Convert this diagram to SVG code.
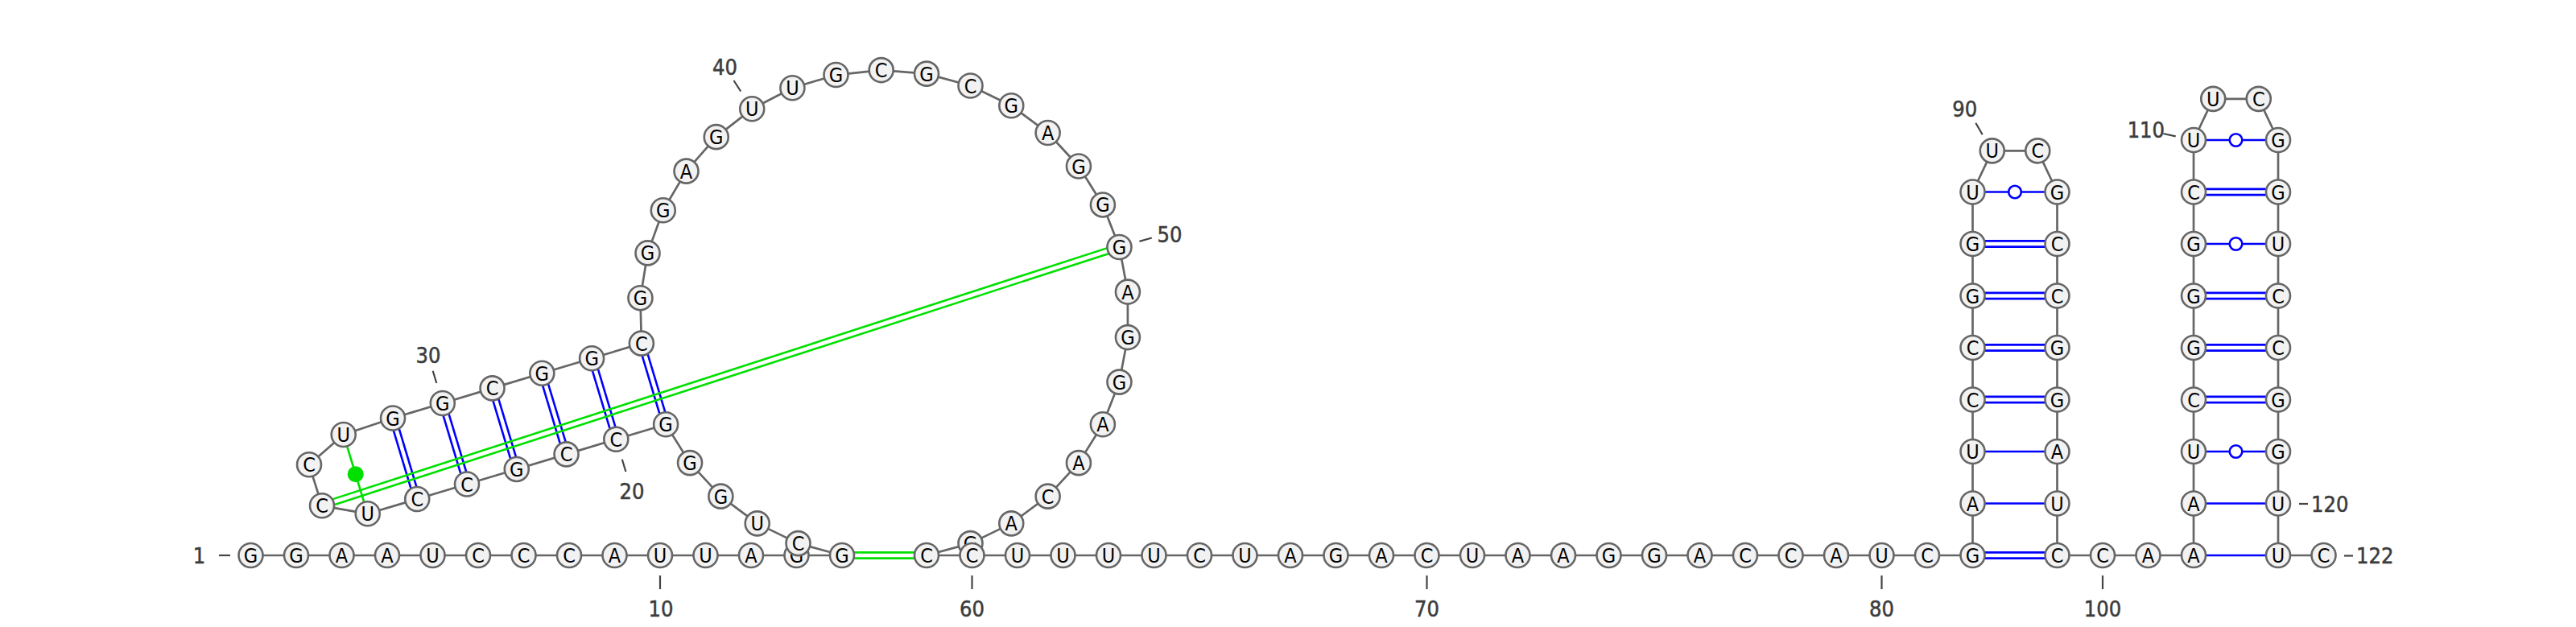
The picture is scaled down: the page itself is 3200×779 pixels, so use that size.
<svg xmlns="http://www.w3.org/2000/svg" width="3200" height="779" viewBox="0 0 3200 779">
<style>
.nd circle{fill:#f2f2f2;stroke:#666;stroke-width:2.6}
.nd text{font-family:"DejaVu Sans Condensed","DejaVu Sans",sans-serif;font-stretch:condensed;font-size:25px;text-anchor:middle;fill:#000}
.bb{fill:none;stroke:#666;stroke-width:2.7;stroke-linejoin:round}
.bp{stroke:#0000ff;stroke-width:2.6}
.pk{stroke:#00e000;stroke-width:2.6}
.gu{fill:#fff;stroke:#0000ff;stroke-width:2.6}
.dot{fill:#00e000}
.tk{stroke:#444;stroke-width:2.2}
.lbl{font-family:"DejaVu Sans Condensed","DejaVu Sans",sans-serif;font-stretch:condensed;font-weight:normal;font-size:27px;fill:#3c3c3c;text-anchor:middle;stroke:#3c3c3c;stroke-width:0.5}
</style>
<rect width="3200" height="779" fill="#fff"/>
<g id="connectors">
<polyline class="bb" points="311.5,690 368,690 424.5,690 481,690 537.5,690 594,690 650.5,690 707,690 763.5,690 820,690 876.5,690 933,690 989.5,690 1046,690 991.5,675.1 940.7,650.37 895.36,616.65 857.05,575.12 827.09,527.22 765.32,545.79 703.55,564.36 641.78,582.93 580.01,601.5 518.24,620.07 456.7,638.3 400,628.3 384,577.3 426.7,540 488.02,519.51 549.79,500.94 611.56,482.37 673.33,463.8 735.1,445.23 796.87,426.66 795.45,370.18 804.52,314.41 823.75,261.28 852.5,212.64 889.75,170.16 934.23,135.32 984.39,109.32 1038.5,93.05 1094.69,87.09 1151.01,91.64 1205.51,106.54 1256.31,131.28 1301.64,164.99 1339.95,206.52 1369.91,254.43 1390.47,307.05 1400.93,362.58 1400.93,419.08 1390.47,474.6 1369.9,527.22 1339.94,575.13 1301.63,616.66 1256.29,650.37 1205.49,675.1 1151,690 1207.5,690 1264,690 1320.5,690 1377,690 1433.5,690 1490,690 1546.5,690 1603,690 1659.5,690 1716,690 1772.5,690 1829,690 1885.5,690 1942,690 1998.5,690 2055,690 2111.5,690 2168,690 2224.5,690 2281,690 2337.5,690 2394,690 2450.5,690 2450.5,625.5 2450.5,561 2450.5,496.5 2450.5,432 2450.5,367.5 2450.5,303 2450.5,238.5 2474.75,187.35 2531.25,187.35 2555.5,238.5 2555.5,303 2555.5,367.5 2555.5,432 2555.5,496.5 2555.5,561 2555.5,625.5 2555.5,690 2612,690 2668.5,690 2725,690 2725,625.5 2725,561 2725,496.5 2725,432 2725,367.5 2725,303 2725,238.5 2725,174 2749.25,122.85 2805.75,122.85 2830,174 2830,238.5 2830,303 2830,367.5 2830,432 2830,496.5 2830,561 2830,625.5 2830,690 2886.5,690"/>
<!-- left helix pairs -->
<line class="bp" x1="793.42" y1="427.7" x2="823.64" y2="528.26"/><line class="bp" x1="800.32" y1="425.62" x2="830.54" y2="526.18"/>
<line class="bp" x1="731.65" y1="446.27" x2="761.87" y2="546.83"/><line class="bp" x1="738.55" y1="444.19" x2="768.77" y2="544.75"/>
<line class="bp" x1="669.88" y1="464.84" x2="700.1" y2="565.4"/><line class="bp" x1="676.78" y1="462.76" x2="707" y2="563.32"/>
<line class="bp" x1="608.11" y1="483.41" x2="638.33" y2="583.97"/><line class="bp" x1="615.01" y1="481.33" x2="645.23" y2="581.89"/>
<line class="bp" x1="546.34" y1="501.98" x2="576.56" y2="602.54"/><line class="bp" x1="553.24" y1="499.9" x2="583.46" y2="600.46"/>
<line class="bp" x1="484.57" y1="520.55" x2="514.79" y2="621.11"/><line class="bp" x1="491.47" y1="518.47" x2="521.69" y2="619.03"/>
<!-- stem 1 -->
<line class="bp" x1="2450.5" y1="686.4" x2="2555.5" y2="686.4"/><line class="bp" x1="2450.5" y1="693.6" x2="2555.5" y2="693.6"/>
<line class="bp" x1="2450.5" y1="625.5" x2="2555.5" y2="625.5"/>
<line class="bp" x1="2450.5" y1="561" x2="2555.5" y2="561"/>
<line class="bp" x1="2450.5" y1="492.9" x2="2555.5" y2="492.9"/><line class="bp" x1="2450.5" y1="500.1" x2="2555.5" y2="500.1"/>
<line class="bp" x1="2450.5" y1="428.4" x2="2555.5" y2="428.4"/><line class="bp" x1="2450.5" y1="435.6" x2="2555.5" y2="435.6"/>
<line class="bp" x1="2450.5" y1="363.9" x2="2555.5" y2="363.9"/><line class="bp" x1="2450.5" y1="371.1" x2="2555.5" y2="371.1"/>
<line class="bp" x1="2450.5" y1="299.4" x2="2555.5" y2="299.4"/><line class="bp" x1="2450.5" y1="306.6" x2="2555.5" y2="306.6"/>
<line class="bp" x1="2450.5" y1="238.5" x2="2555.5" y2="238.5"/>
<circle class="gu" cx="2503" cy="238.5" r="7.8"/>
<!-- stem 2 -->
<line class="bp" x1="2725" y1="690" x2="2830" y2="690"/>
<line class="bp" x1="2725" y1="625.5" x2="2830" y2="625.5"/>
<line class="bp" x1="2725" y1="561" x2="2830" y2="561"/>
<circle class="gu" cx="2777.5" cy="561" r="7.8"/>
<line class="bp" x1="2725" y1="492.9" x2="2830" y2="492.9"/><line class="bp" x1="2725" y1="500.1" x2="2830" y2="500.1"/>
<line class="bp" x1="2725" y1="428.4" x2="2830" y2="428.4"/><line class="bp" x1="2725" y1="435.6" x2="2830" y2="435.6"/>
<line class="bp" x1="2725" y1="363.9" x2="2830" y2="363.9"/><line class="bp" x1="2725" y1="371.1" x2="2830" y2="371.1"/>
<line class="bp" x1="2725" y1="303" x2="2830" y2="303"/>
<circle class="gu" cx="2777.5" cy="303" r="7.8"/>
<line class="bp" x1="2725" y1="234.9" x2="2830" y2="234.9"/><line class="bp" x1="2725" y1="242.1" x2="2830" y2="242.1"/>
<line class="bp" x1="2725" y1="174" x2="2830" y2="174"/>
<circle class="gu" cx="2777.5" cy="174" r="7.8"/>
<!-- tertiary / pseudoknot pairs -->
<line class="pk" x1="1046" y1="686.4" x2="1151" y2="686.4"/><line class="pk" x1="1046" y1="693.6" x2="1151" y2="693.6"/>
<line class="pk" x1="401.11" y1="631.72" x2="1391.58" y2="310.47"/><line class="pk" x1="398.89" y1="624.88" x2="1389.36" y2="303.63"/>
<line class="pk" x1="426.7" y1="540" x2="456.7" y2="638.3"/>
<circle class="dot" cx="441.7" cy="589.15" r="10"/>
</g>
<g id="ticks">
<line class="tk" x1="272" y1="690" x2="286" y2="690"/>
<line class="tk" x1="820" y1="715" x2="820" y2="732"/>
<line class="tk" x1="772.8" y1="570.7" x2="777.4" y2="586"/>
<line class="tk" x1="542.3" y1="476" x2="537.7" y2="460.7"/>
<line class="tk" x1="920.2" y1="113.5" x2="911.5" y2="100"/>
<line class="tk" x1="1415.5" y1="299.9" x2="1430.8" y2="295.5"/>
<line class="tk" x1="1207.5" y1="715" x2="1207.5" y2="732"/>
<line class="tk" x1="1772.5" y1="715" x2="1772.5" y2="732"/>
<line class="tk" x1="2337.5" y1="715" x2="2337.5" y2="732"/>
<line class="tk" x1="2462.7" y1="167.3" x2="2454.3" y2="152.7"/>
<line class="tk" x1="2612" y1="715" x2="2612" y2="732"/>
<line class="tk" x1="2702.7" y1="169.3" x2="2687.3" y2="166"/>
<line class="tk" x1="2856" y1="626" x2="2867" y2="626"/>
<line class="tk" x1="2912" y1="690.5" x2="2923" y2="690.5"/>
<text class="lbl" x="247.5" y="699.5">1</text>
<text class="lbl" x="821" y="766">10</text>
<text class="lbl" x="785" y="619.5">20</text>
<text class="lbl" x="532" y="450.5">30</text>
<text class="lbl" x="900.5" y="92.8">40</text>
<text class="lbl" x="1453" y="300.5">50</text>
<text class="lbl" x="1207.5" y="766">60</text>
<text class="lbl" x="1772.5" y="766">70</text>
<text class="lbl" x="2337.5" y="766">80</text>
<text class="lbl" x="2440.7" y="144.5">90</text>
<text class="lbl" x="2612" y="766">100</text>
<text class="lbl" x="2689" y="171" style="text-anchor:end">110</text>
<text class="lbl" x="2871" y="635.5" style="text-anchor:start">120</text>
<text class="lbl" x="2927" y="700" style="text-anchor:start">122</text>
</g>
<g id="n1" class="nd"><circle cx="311.5" cy="690" r="15"/><text x="311.5" y="699">G</text></g>
<g id="n2" class="nd"><circle cx="368" cy="690" r="15"/><text x="368" y="699">G</text></g>
<g id="n3" class="nd"><circle cx="424.5" cy="690" r="15"/><text x="424.5" y="699">A</text></g>
<g id="n4" class="nd"><circle cx="481" cy="690" r="15"/><text x="481" y="699">A</text></g>
<g id="n5" class="nd"><circle cx="537.5" cy="690" r="15"/><text x="537.5" y="699">U</text></g>
<g id="n6" class="nd"><circle cx="594" cy="690" r="15"/><text x="594" y="699">C</text></g>
<g id="n7" class="nd"><circle cx="650.5" cy="690" r="15"/><text x="650.5" y="699">C</text></g>
<g id="n8" class="nd"><circle cx="707" cy="690" r="15"/><text x="707" y="699">C</text></g>
<g id="n9" class="nd"><circle cx="763.5" cy="690" r="15"/><text x="763.5" y="699">A</text></g>
<g id="n10" class="nd"><circle cx="820" cy="690" r="15"/><text x="820" y="699">U</text></g>
<g id="n11" class="nd"><circle cx="876.5" cy="690" r="15"/><text x="876.5" y="699">U</text></g>
<g id="n12" class="nd"><circle cx="933" cy="690" r="15"/><text x="933" y="699">A</text></g>
<g id="n13" class="nd"><circle cx="989.5" cy="690" r="15"/><text x="989.5" y="699">G</text></g>
<g id="n14" class="nd"><circle cx="1046" cy="690" r="15"/><text x="1046" y="699">G</text></g>
<g id="n15" class="nd"><circle cx="991.5" cy="675.1" r="15"/><text x="991.5" y="684.1">C</text></g>
<g id="n16" class="nd"><circle cx="940.7" cy="650.37" r="15"/><text x="940.7" y="659.37">U</text></g>
<g id="n17" class="nd"><circle cx="895.36" cy="616.65" r="15"/><text x="895.36" y="625.65">G</text></g>
<g id="n18" class="nd"><circle cx="857.05" cy="575.12" r="15"/><text x="857.05" y="584.12">G</text></g>
<g id="n19" class="nd"><circle cx="827.09" cy="527.22" r="15"/><text x="827.09" y="536.22">G</text></g>
<g id="n20" class="nd"><circle cx="765.32" cy="545.79" r="15"/><text x="765.32" y="554.79">C</text></g>
<g id="n21" class="nd"><circle cx="703.55" cy="564.36" r="15"/><text x="703.55" y="573.36">C</text></g>
<g id="n22" class="nd"><circle cx="641.78" cy="582.93" r="15"/><text x="641.78" y="591.93">G</text></g>
<g id="n23" class="nd"><circle cx="580.01" cy="601.5" r="15"/><text x="580.01" y="610.5">C</text></g>
<g id="n24" class="nd"><circle cx="518.24" cy="620.07" r="15"/><text x="518.24" y="629.07">C</text></g>
<g id="n25" class="nd"><circle cx="456.7" cy="638.3" r="15"/><text x="456.7" y="647.3">U</text></g>
<g id="n26" class="nd"><circle cx="400" cy="628.3" r="15"/><text x="400" y="637.3">C</text></g>
<g id="n27" class="nd"><circle cx="384" cy="577.3" r="15"/><text x="384" y="586.3">C</text></g>
<g id="n28" class="nd"><circle cx="426.7" cy="540" r="15"/><text x="426.7" y="549">U</text></g>
<g id="n29" class="nd"><circle cx="488.02" cy="519.51" r="15"/><text x="488.02" y="528.51">G</text></g>
<g id="n30" class="nd"><circle cx="549.79" cy="500.94" r="15"/><text x="549.79" y="509.94">G</text></g>
<g id="n31" class="nd"><circle cx="611.56" cy="482.37" r="15"/><text x="611.56" y="491.37">C</text></g>
<g id="n32" class="nd"><circle cx="673.33" cy="463.8" r="15"/><text x="673.33" y="472.8">G</text></g>
<g id="n33" class="nd"><circle cx="735.1" cy="445.23" r="15"/><text x="735.1" y="454.23">G</text></g>
<g id="n34" class="nd"><circle cx="796.87" cy="426.66" r="15"/><text x="796.87" y="435.66">C</text></g>
<g id="n35" class="nd"><circle cx="795.45" cy="370.18" r="15"/><text x="795.45" y="379.18">G</text></g>
<g id="n36" class="nd"><circle cx="804.52" cy="314.41" r="15"/><text x="804.52" y="323.41">G</text></g>
<g id="n37" class="nd"><circle cx="823.75" cy="261.28" r="15"/><text x="823.75" y="270.28">G</text></g>
<g id="n38" class="nd"><circle cx="852.5" cy="212.64" r="15"/><text x="852.5" y="221.64">A</text></g>
<g id="n39" class="nd"><circle cx="889.75" cy="170.16" r="15"/><text x="889.75" y="179.16">G</text></g>
<g id="n40" class="nd"><circle cx="934.23" cy="135.32" r="15"/><text x="934.23" y="144.32">U</text></g>
<g id="n41" class="nd"><circle cx="984.39" cy="109.32" r="15"/><text x="984.39" y="118.32">U</text></g>
<g id="n42" class="nd"><circle cx="1038.5" cy="93.05" r="15"/><text x="1038.5" y="102.05">G</text></g>
<g id="n43" class="nd"><circle cx="1094.69" cy="87.09" r="15"/><text x="1094.69" y="96.09">C</text></g>
<g id="n44" class="nd"><circle cx="1151.01" cy="91.64" r="15"/><text x="1151.01" y="100.64">G</text></g>
<g id="n45" class="nd"><circle cx="1205.51" cy="106.54" r="15"/><text x="1205.51" y="115.54">C</text></g>
<g id="n46" class="nd"><circle cx="1256.31" cy="131.28" r="15"/><text x="1256.31" y="140.28">G</text></g>
<g id="n47" class="nd"><circle cx="1301.64" cy="164.99" r="15"/><text x="1301.64" y="173.99">A</text></g>
<g id="n48" class="nd"><circle cx="1339.95" cy="206.52" r="15"/><text x="1339.95" y="215.52">G</text></g>
<g id="n49" class="nd"><circle cx="1369.91" cy="254.43" r="15"/><text x="1369.91" y="263.43">G</text></g>
<g id="n50" class="nd"><circle cx="1390.47" cy="307.05" r="15"/><text x="1390.47" y="316.05">G</text></g>
<g id="n51" class="nd"><circle cx="1400.93" cy="362.58" r="15"/><text x="1400.93" y="371.58">A</text></g>
<g id="n52" class="nd"><circle cx="1400.93" cy="419.08" r="15"/><text x="1400.93" y="428.08">G</text></g>
<g id="n53" class="nd"><circle cx="1390.47" cy="474.6" r="15"/><text x="1390.47" y="483.6">G</text></g>
<g id="n54" class="nd"><circle cx="1369.9" cy="527.22" r="15"/><text x="1369.9" y="536.22">A</text></g>
<g id="n55" class="nd"><circle cx="1339.94" cy="575.13" r="15"/><text x="1339.94" y="584.13">A</text></g>
<g id="n56" class="nd"><circle cx="1301.63" cy="616.66" r="15"/><text x="1301.63" y="625.66">C</text></g>
<g id="n57" class="nd"><circle cx="1256.29" cy="650.37" r="15"/><text x="1256.29" y="659.37">A</text></g>
<g id="n58" class="nd"><circle cx="1205.49" cy="675.1" r="15"/><text x="1205.49" y="684.1">G</text></g>
<g id="n59" class="nd"><circle cx="1151" cy="690" r="15"/><text x="1151" y="699">C</text></g>
<g id="n60" class="nd"><circle cx="1207.5" cy="690" r="15"/><text x="1207.5" y="699">C</text></g>
<g id="n61" class="nd"><circle cx="1264" cy="690" r="15"/><text x="1264" y="699">U</text></g>
<g id="n62" class="nd"><circle cx="1320.5" cy="690" r="15"/><text x="1320.5" y="699">U</text></g>
<g id="n63" class="nd"><circle cx="1377" cy="690" r="15"/><text x="1377" y="699">U</text></g>
<g id="n64" class="nd"><circle cx="1433.5" cy="690" r="15"/><text x="1433.5" y="699">U</text></g>
<g id="n65" class="nd"><circle cx="1490" cy="690" r="15"/><text x="1490" y="699">C</text></g>
<g id="n66" class="nd"><circle cx="1546.5" cy="690" r="15"/><text x="1546.5" y="699">U</text></g>
<g id="n67" class="nd"><circle cx="1603" cy="690" r="15"/><text x="1603" y="699">A</text></g>
<g id="n68" class="nd"><circle cx="1659.5" cy="690" r="15"/><text x="1659.5" y="699">G</text></g>
<g id="n69" class="nd"><circle cx="1716" cy="690" r="15"/><text x="1716" y="699">A</text></g>
<g id="n70" class="nd"><circle cx="1772.5" cy="690" r="15"/><text x="1772.5" y="699">C</text></g>
<g id="n71" class="nd"><circle cx="1829" cy="690" r="15"/><text x="1829" y="699">U</text></g>
<g id="n72" class="nd"><circle cx="1885.5" cy="690" r="15"/><text x="1885.5" y="699">A</text></g>
<g id="n73" class="nd"><circle cx="1942" cy="690" r="15"/><text x="1942" y="699">A</text></g>
<g id="n74" class="nd"><circle cx="1998.5" cy="690" r="15"/><text x="1998.5" y="699">G</text></g>
<g id="n75" class="nd"><circle cx="2055" cy="690" r="15"/><text x="2055" y="699">G</text></g>
<g id="n76" class="nd"><circle cx="2111.5" cy="690" r="15"/><text x="2111.5" y="699">A</text></g>
<g id="n77" class="nd"><circle cx="2168" cy="690" r="15"/><text x="2168" y="699">C</text></g>
<g id="n78" class="nd"><circle cx="2224.5" cy="690" r="15"/><text x="2224.5" y="699">C</text></g>
<g id="n79" class="nd"><circle cx="2281" cy="690" r="15"/><text x="2281" y="699">A</text></g>
<g id="n80" class="nd"><circle cx="2337.5" cy="690" r="15"/><text x="2337.5" y="699">U</text></g>
<g id="n81" class="nd"><circle cx="2394" cy="690" r="15"/><text x="2394" y="699">C</text></g>
<g id="n82" class="nd"><circle cx="2450.5" cy="690" r="15"/><text x="2450.5" y="699">G</text></g>
<g id="n83" class="nd"><circle cx="2450.5" cy="625.5" r="15"/><text x="2450.5" y="634.5">A</text></g>
<g id="n84" class="nd"><circle cx="2450.5" cy="561" r="15"/><text x="2450.5" y="570">U</text></g>
<g id="n85" class="nd"><circle cx="2450.5" cy="496.5" r="15"/><text x="2450.5" y="505.5">C</text></g>
<g id="n86" class="nd"><circle cx="2450.5" cy="432" r="15"/><text x="2450.5" y="441">C</text></g>
<g id="n87" class="nd"><circle cx="2450.5" cy="367.5" r="15"/><text x="2450.5" y="376.5">G</text></g>
<g id="n88" class="nd"><circle cx="2450.5" cy="303" r="15"/><text x="2450.5" y="312">G</text></g>
<g id="n89" class="nd"><circle cx="2450.5" cy="238.5" r="15"/><text x="2450.5" y="247.5">U</text></g>
<g id="n90" class="nd"><circle cx="2474.75" cy="187.35" r="15"/><text x="2474.75" y="196.35">U</text></g>
<g id="n91" class="nd"><circle cx="2531.25" cy="187.35" r="15"/><text x="2531.25" y="196.35">C</text></g>
<g id="n92" class="nd"><circle cx="2555.5" cy="238.5" r="15"/><text x="2555.5" y="247.5">G</text></g>
<g id="n93" class="nd"><circle cx="2555.5" cy="303" r="15"/><text x="2555.5" y="312">C</text></g>
<g id="n94" class="nd"><circle cx="2555.5" cy="367.5" r="15"/><text x="2555.5" y="376.5">C</text></g>
<g id="n95" class="nd"><circle cx="2555.5" cy="432" r="15"/><text x="2555.5" y="441">G</text></g>
<g id="n96" class="nd"><circle cx="2555.5" cy="496.5" r="15"/><text x="2555.5" y="505.5">G</text></g>
<g id="n97" class="nd"><circle cx="2555.5" cy="561" r="15"/><text x="2555.5" y="570">A</text></g>
<g id="n98" class="nd"><circle cx="2555.5" cy="625.5" r="15"/><text x="2555.5" y="634.5">U</text></g>
<g id="n99" class="nd"><circle cx="2555.5" cy="690" r="15"/><text x="2555.5" y="699">C</text></g>
<g id="n100" class="nd"><circle cx="2612" cy="690" r="15"/><text x="2612" y="699">C</text></g>
<g id="n101" class="nd"><circle cx="2668.5" cy="690" r="15"/><text x="2668.5" y="699">A</text></g>
<g id="n102" class="nd"><circle cx="2725" cy="690" r="15"/><text x="2725" y="699">A</text></g>
<g id="n103" class="nd"><circle cx="2725" cy="625.5" r="15"/><text x="2725" y="634.5">A</text></g>
<g id="n104" class="nd"><circle cx="2725" cy="561" r="15"/><text x="2725" y="570">U</text></g>
<g id="n105" class="nd"><circle cx="2725" cy="496.5" r="15"/><text x="2725" y="505.5">C</text></g>
<g id="n106" class="nd"><circle cx="2725" cy="432" r="15"/><text x="2725" y="441">G</text></g>
<g id="n107" class="nd"><circle cx="2725" cy="367.5" r="15"/><text x="2725" y="376.5">G</text></g>
<g id="n108" class="nd"><circle cx="2725" cy="303" r="15"/><text x="2725" y="312">G</text></g>
<g id="n109" class="nd"><circle cx="2725" cy="238.5" r="15"/><text x="2725" y="247.5">C</text></g>
<g id="n110" class="nd"><circle cx="2725" cy="174" r="15"/><text x="2725" y="183">U</text></g>
<g id="n111" class="nd"><circle cx="2749.25" cy="122.85" r="15"/><text x="2749.25" y="131.85">U</text></g>
<g id="n112" class="nd"><circle cx="2805.75" cy="122.85" r="15"/><text x="2805.75" y="131.85">C</text></g>
<g id="n113" class="nd"><circle cx="2830" cy="174" r="15"/><text x="2830" y="183">G</text></g>
<g id="n114" class="nd"><circle cx="2830" cy="238.5" r="15"/><text x="2830" y="247.5">G</text></g>
<g id="n115" class="nd"><circle cx="2830" cy="303" r="15"/><text x="2830" y="312">U</text></g>
<g id="n116" class="nd"><circle cx="2830" cy="367.5" r="15"/><text x="2830" y="376.5">C</text></g>
<g id="n117" class="nd"><circle cx="2830" cy="432" r="15"/><text x="2830" y="441">C</text></g>
<g id="n118" class="nd"><circle cx="2830" cy="496.5" r="15"/><text x="2830" y="505.5">G</text></g>
<g id="n119" class="nd"><circle cx="2830" cy="561" r="15"/><text x="2830" y="570">G</text></g>
<g id="n120" class="nd"><circle cx="2830" cy="625.5" r="15"/><text x="2830" y="634.5">U</text></g>
<g id="n121" class="nd"><circle cx="2830" cy="690" r="15"/><text x="2830" y="699">U</text></g>
<g id="n122" class="nd"><circle cx="2886.5" cy="690" r="15"/><text x="2886.5" y="699">C</text></g>
</svg>
